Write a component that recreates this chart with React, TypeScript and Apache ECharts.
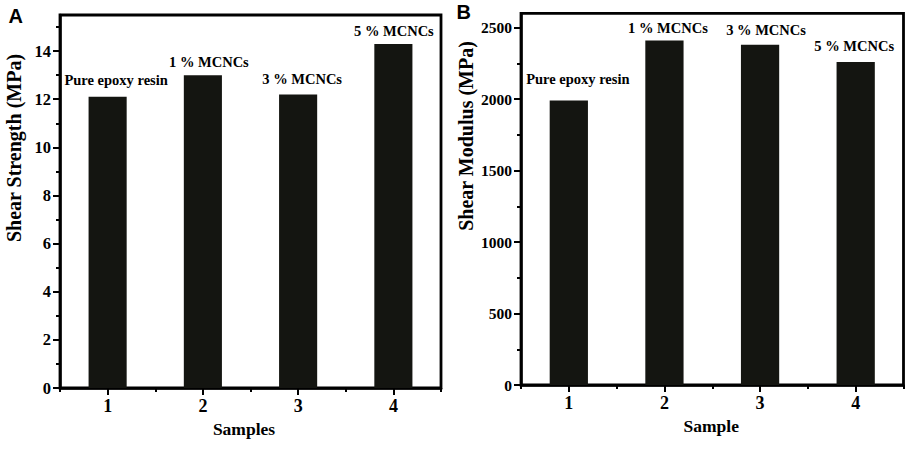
import React, { useEffect, useRef } from "react";
import * as echarts from "echarts";

// ---------- data ----------
const samples = ["1", "2", "3", "4"];
const shearStrength = [12.1, 13.0, 12.2, 14.3];
const shearModulus = [1990, 2410, 2380, 2260];
const annotations = ["Pure epoxy resin", "1 % MCNCs", "3 % MCNCs", "5 % MCNCs"];
const strengthTicks = [0, 2, 4, 6, 8, 10, 12, 14];
const strengthMinorTicks = [1, 3, 5, 7, 9, 11, 13, 15];
const modulusTicks = [0, 500, 1000, 1500, 2000, 2500];
const modulusMinorTicks = [250, 750, 1250, 1750, 2250];
const yTitleA = "Shear Strength (MPa)";
const yTitleB = "Shear Modulus (MPa)";
const xTitleA = "Samples";
const xTitleB = "Sample";
const panelLetters = ["A", "B"];

// ---------- layout / style ----------
const SERIF = '"Liberation Serif", "Times New Roman", serif';
const SANS = '"Liberation Sans", Arial, sans-serif';
const BAR = "#141511";
const offsetsA: [number, number][] = [
  [8.5, -9],
  [6, -6],
  [4, -7.7],
  [0.5, -5],
];
const offsetsB: [number, number][] = [
  [9, -13.7],
  [3.5, -5],
  [6, -7],
  [-1.5, -8.6],
];

function mainX(gridIndex: number, name: string, padRight: number) {
  return {
    type: "category",
    gridIndex,
    data: samples,
    position: "bottom",
    name,
    nameLocation: "middle",
    nameGap: 31,
    nameTextStyle: {
      fontFamily: SERIF,
      fontWeight: "bold",
      fontSize: 17.5,
      color: "#000",
      padding: [0, padRight, 0, 0],
    },
    axisLine: { show: true, lineStyle: { color: "#000", width: 2.5 } },
    axisTick: {
      show: true,
      alignWithLabel: true,
      length: 7,
      interval: 0,
      lineStyle: { color: "#000", width: 2 },
    },
    axisLabel: {
      show: true,
      interval: 0,
      margin: 9,
      fontFamily: SERIF,
      fontWeight: "bold",
      fontSize: 18,
      color: "#000",
    },
    splitLine: { show: false },
  };
}

function minorX(gridIndex: number) {
  return {
    type: "category",
    gridIndex,
    data: samples,
    position: "bottom",
    axisLine: { show: false },
    axisTick: {
      show: true,
      alignWithLabel: false,
      length: 4,
      interval: 0,
      lineStyle: { color: "#000", width: 2 },
    },
    axisLabel: { show: false },
    splitLine: { show: false },
  };
}

function mainY(gridIndex: number, max: number, interval: number, ticks: number[], fontSize: number) {
  return {
    type: "value",
    gridIndex,
    position: "left",
    min: 0,
    max,
    interval,
    axisLine: { show: true, lineStyle: { color: "#000", width: 2.5 } },
    axisTick: {
      show: true,
      length: 7,
      customValues: ticks,
      lineStyle: { color: "#000", width: 2 },
    },
    axisLabel: {
      show: true,
      margin: 9,
      customValues: ticks,
      showMaxLabel: true,
      formatter: (v: number) => String(v),
      fontFamily: SERIF,
      fontWeight: "bold",
      fontSize,
      color: "#000",
    },
    splitLine: { show: false },
  };
}

function minorY(gridIndex: number, max: number, interval: number, ticks: number[]) {
  return {
    type: "value",
    gridIndex,
    position: "left",
    min: 0,
    max,
    interval,
    axisLine: { show: false },
    axisTick: {
      show: true,
      length: 4,
      customValues: ticks,
      lineStyle: { color: "#000", width: 2 },
    },
    axisLabel: { show: false },
    splitLine: { show: false },
  };
}

function barSeries(xAxisIndex: number, yAxisIndex: number, values: number[], offsets: [number, number][]) {
  return {
    type: "bar",
    xAxisIndex,
    yAxisIndex,
    barWidth: "40%",
    itemStyle: { color: BAR },
    label: {
      show: true,
      position: "top",
      distance: 0,
      formatter: (p: any) => annotations[p.dataIndex],
      fontFamily: SERIF,
      fontWeight: "bold",
      fontSize: 14.5,
      color: "#000",
    },
    data: values.map((v, i) => ({ value: v, label: { offset: offsets[i] } })),
  };
}

export default function App() {
  const ref = useRef<HTMLDivElement>(null);

  useEffect(() => {
    if (!ref.current) return;
    const chart = echarts.init(ref.current, undefined, { renderer: "svg" });
    const option: any = {
      animation: false,
      backgroundColor: "#fff",
      grid: [
        {
          left: 60,
          top: 15,
          width: 381,
          height: 373,
          show: true,
          borderColor: "#000",
          borderWidth: 2.8,
          backgroundColor: "transparent",
          containLabel: false,
        },
        {
          left: 521,
          top: 13.3,
          width: 382.5,
          height: 371.7,
          show: true,
          borderColor: "#000",
          borderWidth: 2.8,
          backgroundColor: "transparent",
          containLabel: false,
        },
      ],
      xAxis: [mainX(0, xTitleA, 13), minorX(0), mainX(1, xTitleB, 2), minorX(1)],
      yAxis: [
        mainY(0, 15.5, 2, strengthTicks, 16.5),
        minorY(0, 15.5, 2, strengthMinorTicks),
        mainY(1, 2600, 500, modulusTicks, 15.5),
        minorY(1, 2600, 500, modulusMinorTicks),
      ],
      series: [barSeries(0, 0, shearStrength, offsetsA), barSeries(2, 2, shearModulus, offsetsB)],
      graphic: [
        {
          type: "text",
          x: 13.5,
          y: 148,
          rotation: Math.PI / 2,
          style: {
            text: yTitleA,
            fontFamily: SERIF,
            fontWeight: "bold",
            fontSize: 20,
            fill: "#000",
            align: "center",
            verticalAlign: "middle",
          },
        },
        {
          type: "text",
          x: 466,
          y: 136,
          rotation: Math.PI / 2,
          style: {
            text: yTitleB,
            fontFamily: SERIF,
            fontWeight: "bold",
            fontSize: 20,
            fill: "#000",
            align: "center",
            verticalAlign: "middle",
          },
        },
        {
          type: "text",
          x: 8.5,
          y: 6.4,
          style: {
            text: panelLetters[0],
            fontFamily: SANS,
            fontWeight: "bold",
            fontSize: 20,
            fill: "#000",
            align: "left",
            verticalAlign: "top",
          },
        },
        {
          type: "text",
          x: 456.5,
          y: 2.4,
          style: {
            text: panelLetters[1],
            fontFamily: SANS,
            fontWeight: "bold",
            fontSize: 20,
            fill: "#000",
            align: "left",
            verticalAlign: "top",
          },
        },
      ],
    };
    chart.setOption(option);
    return () => chart.dispose();
  }, []);

  return (
    <div
      ref={ref}
      style={{ position: "fixed", left: 0, top: 0, width: 913, height: 450, background: "#fff" }}
    />
  );
}
